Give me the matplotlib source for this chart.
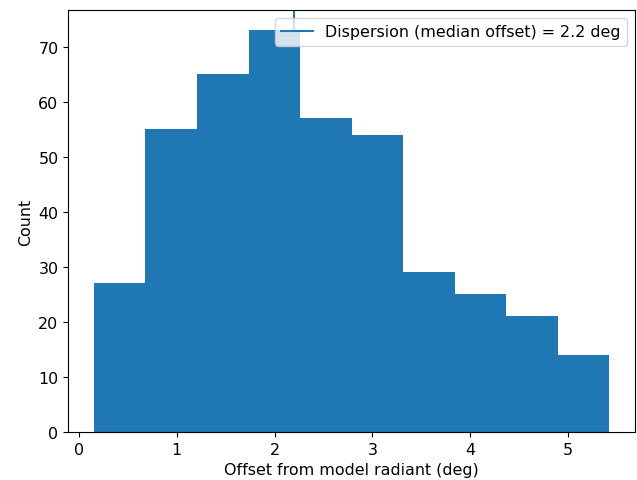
import numpy as np
import matplotlib
matplotlib.use("Agg")
import matplotlib.pyplot as plt

# histogram counts
counts = [27, 55, 65, 73, 57, 54, 29, 25, 21, 14]
bin_lo = 0.154
bin_hi = 5.42
median_offset = 2.2

edges = np.linspace(bin_lo, bin_hi, len(counts) + 1)
centers = 0.5 * (edges[:-1] + edges[1:])

plt.rcParams["font.size"] = 11.4

fig, ax = plt.subplots(figsize=(6.37, 4.81), dpi=100)
fig.subplots_adjust(left=0.107, right=0.997, bottom=0.1, top=0.977)

ax.hist(centers, bins=edges, weights=counts)
ax.axvline(median_offset, label="Dispersion (median offset) = %.1f deg" % median_offset)
ax.set_xlabel("Offset from model radiant (deg)")
ax.set_ylabel("Count")
ax.legend(loc="upper right")

fig.savefig("out.png", dpi=100)
